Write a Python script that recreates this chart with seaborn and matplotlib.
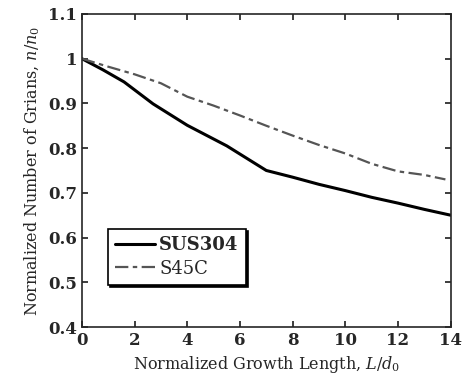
import matplotlib
matplotlib.use("Agg")
import matplotlib.pyplot as plt
import pandas as pd
import seaborn as sns

# SUS304 curve
sus_x = [0, 0.8, 1.6, 2.7, 4.0, 5.5, 7.0, 8.0, 9.0, 10.0, 11.0, 12.0, 13.0, 14.0]
sus_y = [1.0, 0.975, 0.948, 0.899, 0.851, 0.805, 0.750, 0.735, 0.719, 0.705, 0.690, 0.677, 0.663, 0.650]
# S45C curve
s45_x = [0, 1.0, 2.0, 3.0, 4.0, 5.0, 6.0, 7.0, 8.0, 9.0, 10.0, 11.0, 12.0, 13.0, 13.8]
s45_y = [1.0, 0.982, 0.965, 0.945, 0.915, 0.895, 0.873, 0.850, 0.828, 0.807, 0.788, 0.765, 0.748, 0.740, 0.730]

sns.set_theme(style="ticks")
plt.rcParams["font.family"] = ["DejaVu Serif"]
plt.rcParams["mathtext.fontset"] = "dejavuserif"

df = pd.concat([
    pd.DataFrame({"x": sus_x, "y": sus_y, "steel": "SUS304"}),
    pd.DataFrame({"x": s45_x, "y": s45_y, "steel": "S45C"}),
])

fig, ax = plt.subplots(figsize=(4.68, 3.87), dpi=100)
fig.subplots_adjust(left=0.175, right=0.963, top=0.964, bottom=0.155)

sns.lineplot(data=df[df.steel == "SUS304"], x="x", y="y", color="black",
             lw=2.2, ax=ax, label="SUS304", sort=False)
sns.lineplot(data=df[df.steel == "S45C"], x="x", y="y", color="#555555",
             lw=1.6, ax=ax, label="S45C", sort=False, dashes=False)
ax.lines[1].set_dashes([6, 2, 2, 2])

ax.set_xlim(0, 14)
ax.set_ylim(0.4, 1.1)
ax.set_xticks(range(0, 15, 2))
ax.set_yticks([0.4, 0.5, 0.6, 0.7, 0.8, 0.9, 1.0, 1.1])
ax.set_yticklabels(["0.4", "0.5", "0.6", "0.7", "0.8", "0.9", "1", "1.1"])
ax.tick_params(direction="in", top=True, right=True, length=4, labelsize=12)
for lab in ax.get_xticklabels() + ax.get_yticklabels():
    lab.set_fontweight("bold")
for s in ax.spines.values():
    s.set_linewidth(1.2)

ax.set_xlabel("Normalized Growth Length, $\\mathit{L/d_0}$", fontsize=11.5)
ax.set_ylabel("Normalized Number of Grians, $\\mathit{n/n_0}$", fontsize=11.5)

leg = ax.legend(loc="lower left", bbox_to_anchor=(0.07, 0.135), frameon=True,
                fancybox=False, shadow={"ox": 1.5, "oy": -1.5, "color": "black", "alpha": 1},
                fontsize=13, handlelength=2.2, borderpad=0.4, labelspacing=0.3,
                handletextpad=0.25, borderaxespad=0)
leg.get_frame().set_edgecolor("black")
leg.get_frame().set_linewidth(1.2)
leg.get_texts()[0].set_fontweight("bold")

fig.savefig("out.png", dpi=100)
